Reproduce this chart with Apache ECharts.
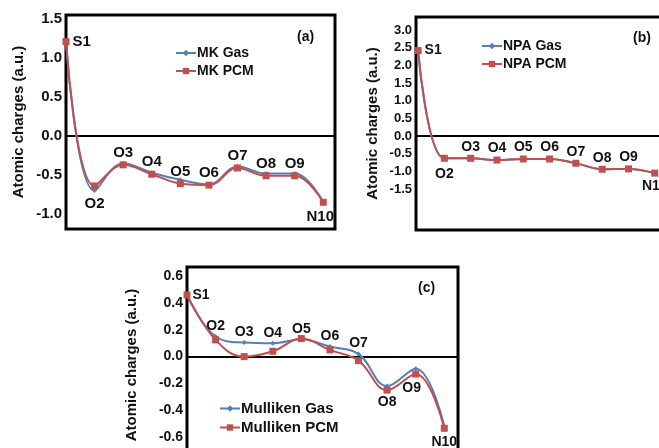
<!DOCTYPE html>
<html>
<head>
<meta charset="utf-8">
<script src="https://cdn.jsdelivr.net/npm/echarts@6/dist/echarts.min.js"></script>
<style>
html,body{margin:0;padding:0;background:#fff;}
#c{width:659px;height:448px;}
</style>
</head>
<body>
<div id="c"></div>
<script>
// ---- data ----
const categories = ['S1','O2','O3','O4','O5','O6','O7','O8','O9','N10'];
const mkGas  = [1.21, -0.70, -0.35, -0.47, -0.56, -0.62, -0.39, -0.48, -0.48, -0.85];
const mkPcm  = [1.21, -0.64, -0.37, -0.49, -0.61, -0.63, -0.41, -0.51, -0.51, -0.85];
const npaGas = [2.42, -0.63, -0.63, -0.68, -0.65, -0.65, -0.77, -0.94, -0.93, -1.05];
const npaPcm = [2.42, -0.63, -0.63, -0.68, -0.65, -0.65, -0.77, -0.94, -0.93, -1.05];
const mullGas = [0.46, 0.15, 0.105, 0.10, 0.13, 0.075, 0.02, -0.22, -0.09, -0.52];
const mullPcm = [0.46, 0.125, 0.0, 0.04, 0.135, 0.05, -0.03, -0.25, -0.13, -0.535];
const ticksA = [-1.0, -0.5, 0.0, 0.5, 1.0, 1.5];
const ticksB = [-1.5, -1.0, -0.5, 0.0, 0.5, 1.0, 1.5, 2.0, 2.5, 3.0];
const ticksC = [-0.6, -0.4, -0.2, 0.0, 0.2, 0.4, 0.6];

// ---- styles ----
const BLUE = '#4F81BD', RED = '#C0504D';
const FONT = '"Liberation Sans", Arial, sans-serif';
const R = {position:'right', distance:3};
const T = {position:'top', distance:1};
const B = {position:'bottom', distance:3};
const labelsA = [R, {position:'bottom', distance:7}, T, T, T, T, T, T, T, {position:'bottom', distance:4, offset:[-3,0]}];
const labelsB = [R, {position:'bottom', distance:5}, T, T, T, T, T, T, T, B];
const labelsCgas = [R, T, T, T, T, T, T, null, null, null];
const labelsCpcm = [null, null, null, null, null, null, null, {position:'bottom',distance:2}, {position:'bottom',distance:4,offset:[-4,0]}, {position:'bottom',distance:3}];

function makeData(vals, specs, fontSize){
  return vals.map((v,i)=>{
    const item = {value:[i+1, v]};
    const s = specs && specs[i];
    if (s) {
      item.label = Object.assign({show:true, fontSize:fontSize, fontWeight:'bold', color:'#111', fontFamily:FONT,
        formatter: ()=>categories[i]}, s);
    }
    return item;
  });
}

function line(name, idx, vals, color, isPcm, specs, fs){
  return {
    name, type:'line', xAxisIndex:idx, yAxisIndex:idx,
    data: makeData(vals, specs, fs),
    smooth: 0.4,
    symbol: isPcm ? 'rect' : 'diamond',
    symbolSize: isPcm ? 7 : 5,
    lineStyle:{color, width:2},
    itemStyle:{color},
    label:{show:false},
    z: isPcm ? 3 : 2
  };
}

function yAxis(idx, min, max, ticks, fs, gap){
  return {
    gridIndex:idx, type:'value', min, max,
    axisLine:{show:false}, axisTick:{show:false}, splitLine:{show:false},
    axisLabel:{customValues:ticks, formatter:v=>v.toFixed(1), fontSize:fs, fontWeight:'bold', color:'#111', fontFamily:FONT, margin:4},
    name:'Atomic charges (a.u.)', nameLocation:'middle', nameRotate:90, nameGap:gap,
    nameTextStyle:{fontSize:15, fontWeight:'bold', color:'#111', fontFamily:FONT}
  };
}
function xAxis(idx, min, max){
  return {
    gridIndex:idx, type:'value', min, max,
    axisLine:{show:true, onZero:true, lineStyle:{color:'#000', width:2}},
    axisTick:{show:false}, axisLabel:{show:false}, splitLine:{show:false}
  };
}
function legend(names, left, top, fs){
  return {data:names, orient:'vertical', left, top, itemWidth:20, itemHeight:8, itemGap:4,
    textStyle:{fontSize:fs, fontWeight:'bold', color:'#111', fontFamily:FONT, padding:[0,0,0,-4]}};
}
function grid(left, top, width, height){
  return {left, top, width, height, show:true, borderColor:'#000', borderWidth:3,
    backgroundColor:'transparent', containLabel:false, outerBoundsMode:'none'};
}

const chart = echarts.init(document.getElementById('c'), null, {renderer:'canvas'});
chart.setOption({
  backgroundColor:'#fff',
  animation:false,
  grid:[grid(66, 15, 269, 214), grid(416, 17, 258, 213), grid(187, 267, 271, 196)],
  xAxis:[xAxis(0, 1, 10.41), xAxis(1, 0.92, 10.73), xAxis(2, 1, 10.48)],
  yAxis:[yAxis(0, -1.192, 1.551, ticksA, 15, 40), yAxis(1, -2.66, 3.37, ticksB, 13, 36), yAxis(2, -0.794, 0.669, ticksC, 14, 48)],
  legend:[
    legend(['MK Gas','MK PCM'], 170, 41, 14),
    legend(['NPA Gas','NPA PCM'], 476, 34, 14),
    legend(['Mulliken Gas','Mulliken PCM'], 214, 396, 15)
  ],
  graphic:[
    {type:'text', left:297, top:30, style:{text:'(a)', font:'bold 14px '+FONT, fill:'#111'}},
    {type:'text', left:633, top:31, style:{text:'(b)', font:'bold 14px '+FONT, fill:'#111'}},
    {type:'text', left:418, top:281, style:{text:'(c)', font:'bold 14px '+FONT, fill:'#111'}}
  ],
  series:[
    line('MK Gas', 0, mkGas, BLUE, false, null, 15),
    line('MK PCM', 0, mkPcm, RED, true, labelsA, 15),
    line('NPA Gas', 1, npaGas, BLUE, false, null, 14),
    line('NPA PCM', 1, npaPcm, RED, true, labelsB, 14),
    line('Mulliken Gas', 2, mullGas, BLUE, false, labelsCgas, 14),
    line('Mulliken PCM', 2, mullPcm, RED, true, labelsCpcm, 14)
  ]
});
</script>
</body>
</html>
